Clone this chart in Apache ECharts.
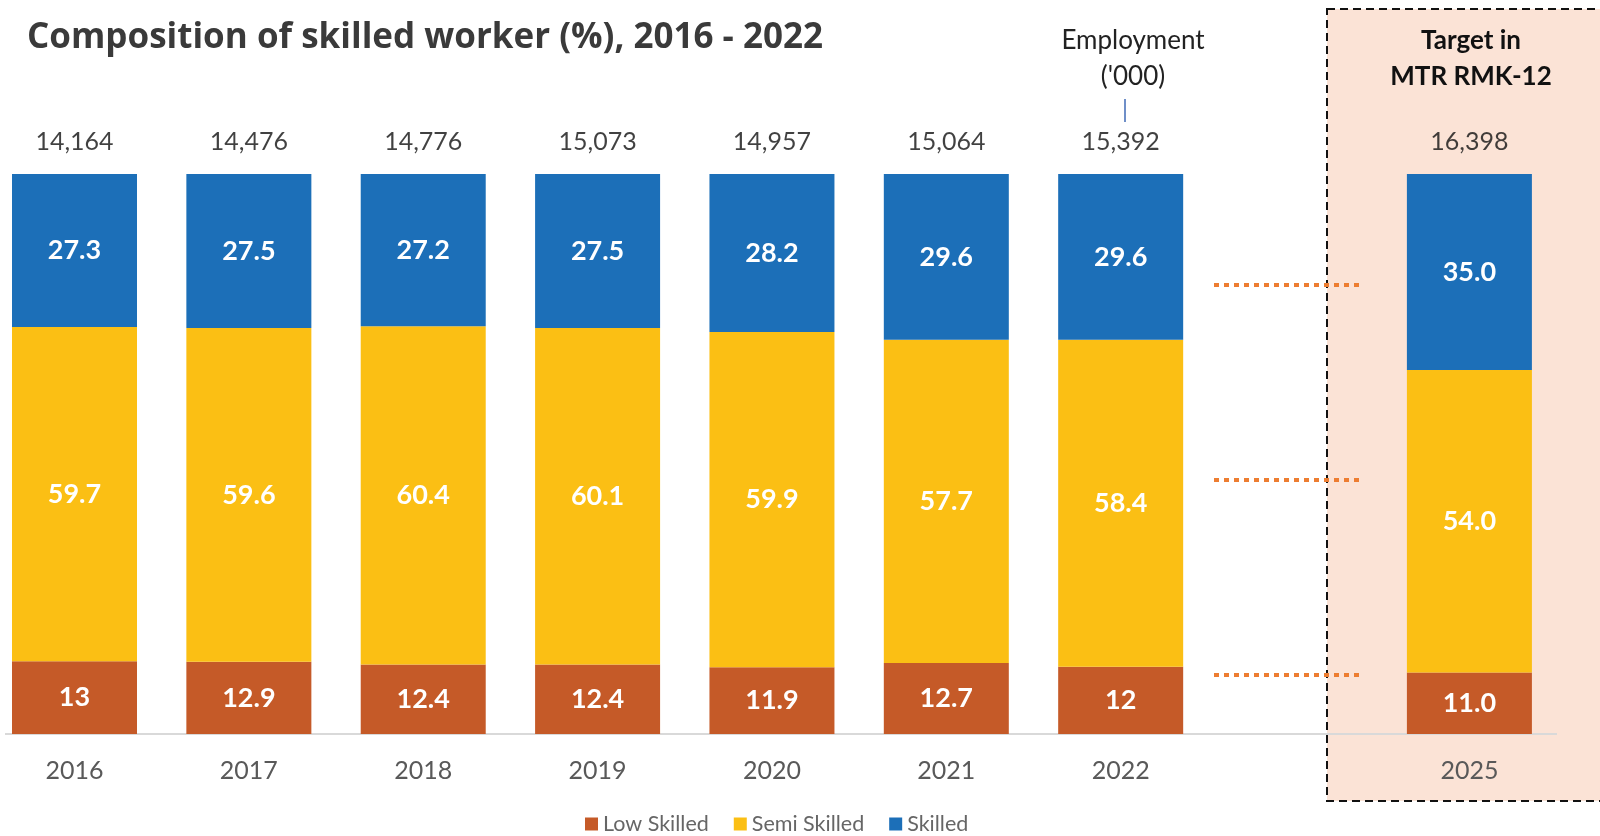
<!DOCTYPE html>
<html>
<head>
<meta charset="utf-8">
<script src="https://cdn.jsdelivr.net/npm/echarts@6/dist/echarts.min.js"></script>
<style>
html,body{margin:0;padding:0;background:#fff;}
#c{width:1600px;height:836px;}
</style>
</head>
<body>
<div id="c"></div>
<script>
var categories = ['2016','2017','2018','2019','2020','2021','2022','','2025'];
var lowSkilled  = [13, 12.9, 12.4, 12.4, 11.9, 12.7, 12, '-', 11.0];
var semiSkilled = [59.7, 59.6, 60.4, 60.1, 59.9, 57.7, 58.4, '-', 54.0];
var skilled     = [27.3, 27.5, 27.2, 27.5, 28.2, 29.6, 29.6, '-', 35.0];
var employment  = ['14,164','14,476','14,776','15,073','14,957','15,064','15,392','','16,398'];
var lowLabels   = ['13','12.9','12.4','12.4','11.9','12.7','12','','11.0'];
var semiLabels  = ['59.7','59.6','60.4','60.1','59.9','57.7','58.4','','54.0'];
var skLabels    = ['27.3','27.5','27.2','27.5','28.2','29.6','29.6','','35.0'];

var totals = categories.map(function(c,i){
  if (lowSkilled[i] === '-') return '-';
  return lowSkilled[i] + semiSkilled[i] + skilled[i];
});

var chart = echarts.init(document.getElementById('c'));
var segLabel = function(arr){
  return {show:true, position:'inside', color:'#fff', fontFamily:'Lato', fontWeight:'bold', fontSize:27,
    formatter:function(p){return arr[p.dataIndex];}};
};
var option = {
  animation:false,
  backgroundColor:'#fff',
  title:{text:'Composition of skilled worker (%), 2016 - 2022', left:22, top:16,
    textStyle:{fontFamily:'Open Sans', fontWeight:'bold', fontSize:35, color:'#3a3a3a'}},
  graphic:[
    {type:'rect', z:-10, shape:{x:1327, y:9, width:290, height:792},
      style:{fill:'#FBE3D6', stroke:'#111', lineWidth:2, lineDash:[8,5]}},
    {type:'line', z:-5, shape:{x1:5, y1:734, x2:1557, y2:734}, style:{stroke:'#d9d9d9', lineWidth:2}},
    {type:'text', style:{x:1133, y:28, text:'Employment', fontFamily:'Lato', fontSize:26, fill:'#222', textAlign:'center'}},
    {type:'text', style:{x:1133, y:64, text:"('000)", fontFamily:'Lato', fontSize:26, fill:'#222', textAlign:'center'}},
    {type:'line', shape:{x1:1125, y1:99, x2:1125, y2:122}, style:{stroke:'#6f8fc8', lineWidth:2}},
    {type:'text', style:{x:1471, y:28, text:'Target in', fontFamily:'Lato', fontWeight:'bold', fontSize:26, fill:'#111', textAlign:'center'}},
    {type:'text', style:{x:1471, y:64, text:'MTR RMK-12', fontFamily:'Lato', fontWeight:'bold', fontSize:26, fill:'#111', textAlign:'center'}},
    {type:'line', shape:{x1:1214, y1:285, x2:1360, y2:285}, style:{stroke:'#ED7D31', lineWidth:4, lineDash:[5,5]}},
    {type:'line', shape:{x1:1214, y1:480, x2:1360, y2:480}, style:{stroke:'#ED7D31', lineWidth:4, lineDash:[5,5]}},
    {type:'line', shape:{x1:1214, y1:675, x2:1360, y2:675}, style:{stroke:'#ED7D31', lineWidth:4, lineDash:[5,5]}}
  ],
  legend:{data:['Low Skilled','Semi Skilled','Skilled'], top:808, left:580, itemWidth:13, itemHeight:13, itemGap:25,
    icon:'rect', textStyle:{fontFamily:'Lato', fontSize:21.5, color:'#666'}},
  grid:{left:74.5, right:130.6, top:174, bottom:102},
  xAxis:{type:'category', data:categories, boundaryGap:false, axisTick:{show:false},
    axisLine:{show:false},
    axisLabel:{margin:24, fontFamily:'Lato', fontSize:25, color:'#595959'}},
  yAxis:{type:'value', min:0, max:100, show:false},
  series:[
    {name:'Low Skilled', type:'bar', stack:'a', data:lowSkilled, barWidth:125,
      itemStyle:{color:'#C55A28'}, label:segLabel(lowLabels)},
    {name:'Semi Skilled', type:'bar', stack:'a', data:semiSkilled, barWidth:125,
      itemStyle:{color:'#FBBF14'}, label:segLabel(semiLabels)},
    {name:'Skilled', type:'bar', stack:'a', data:skilled, barWidth:125,
      itemStyle:{color:'#1C6FB8'}, label:segLabel(skLabels)},
    {name:'Employment', type:'scatter', data:totals, symbolSize:0, silent:true,
      label:{show:true, position:'top', distance:20, fontFamily:'Lato', fontSize:25, color:'#111',
        formatter:function(p){return employment[p.dataIndex];}}}
  ]
};
chart.setOption(option);
</script>
</body>
</html>
